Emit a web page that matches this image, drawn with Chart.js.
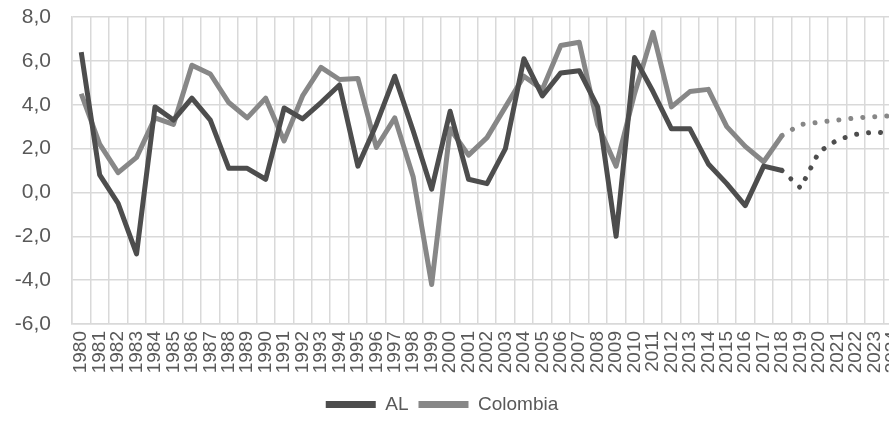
<!DOCTYPE html>
<html>
<head>
<meta charset="utf-8">
<script src="https://cdn.jsdelivr.net/npm/chart.js@4.4.1/dist/chart.umd.min.js"></script>
<style>
  html, body { margin: 0; padding: 0; background: #fff; overflow: hidden; }
  #myChart { display: block; width: 904px; height: 427px; }
</style>
</head>
<body>
<canvas id="myChart" width="904" height="427"></canvas>
<script>
const years = ['1980','1981','1982','1983','1984','1985','1986','1987','1988','1989',
  '1990','1991','1992','1993','1994','1995','1996','1997','1998','1999',
  '2000','2001','2002','2003','2004','2005','2006','2007','2008','2009',
  '2010','2011','2012','2013','2014','2015','2016','2017','2018','2019',
  '2020','2021','2022','2023','2024'];

const alValues = [6.4, 0.8, -0.5, -2.8, 3.9, 3.3, 4.3, 3.3, 1.1, 1.1,
  0.6, 3.85, 3.35, 4.1, 4.9, 1.2, 3.1, 5.3, 2.8, 0.15,
  3.7, 0.6, 0.4, 2.0, 6.1, 4.4, 5.45, 5.55, 3.9, -2.0,
  6.15, 4.6, 2.9, 2.9, 1.3, 0.4, -0.6, 1.2, 1.0, 0.2,
  1.85, 2.4, 2.65, 2.75, 2.7];

const colombiaValues = [4.5, 2.2, 0.9, 1.6, 3.4, 3.1, 5.8, 5.4, 4.1, 3.4,
  4.3, 2.35, 4.4, 5.7, 5.15, 5.2, 2.05, 3.4, 0.7, -4.2,
  2.9, 1.7, 2.5, 3.9, 5.3, 4.7, 6.7, 6.85, 3.1, 1.2,
  4.5, 7.3, 3.9, 4.6, 4.7, 3.0, 2.1, 1.4, 2.6, 3.1,
  3.2, 3.3, 3.4, 3.45, 3.5];

// projections start after this year (dotted)
const lastObserved = '2018';

const yMin = -6;
const yMax = 8;
const yStep = 2;

const textColor = '#595959';
const gridColor = '#d9d9d9';
const fontFamily = '"Liberation Sans", Arial, sans-serif';

const cut = years.indexOf(lastObserved);

const projSegment = {
  borderDash: ctx => ctx.p0DataIndex >= cut ? [0.01, 12] : undefined,
  borderCapStyle: ctx => ctx.p0DataIndex >= cut ? 'round' : 'butt'
};

// legend sits a bit left of the canvas centre in the original
const legendShift = {
  id: 'legendShift',
  afterLayout(chart) {
    chart.legend.left -= 9;
    chart.legend.right -= 9;
  }
};

let myChart = new Chart(document.getElementById('myChart'), {
  type: 'line',
  data: {
    labels: years,
    datasets: [
      {
        label: 'AL',
        data: alValues,
        borderColor: '#4d4d4d',
        backgroundColor: '#4d4d4d',
        borderWidth: 5,
        pointRadius: 0,
        tension: 0,
        borderJoinStyle: 'round',
        segment: projSegment
      },
      {
        label: 'Colombia',
        data: colombiaValues,
        borderColor: '#878787',
        backgroundColor: '#878787',
        borderWidth: 5,
        pointRadius: 0,
        tension: 0,
        borderJoinStyle: 'round',
        segment: projSegment
      }
    ]
  },
  options: {
    responsive: false,
    animation: false,
    devicePixelRatio: 1,
    layout: { padding: { top: 17, right: 2, bottom: 3, left: 0 } },
    plugins: {
      tooltip: { enabled: false },
      legend: {
        position: 'bottom',
        labels: {
          boxWidth: 50,
          boxHeight: 7,
          padding: 10,
          color: textColor,
          font: { family: fontFamily, size: 19 },
          generateLabels: chart => chart.data.datasets.map((ds, i) => ({
            text: ds.label,
            fillStyle: ds.borderColor,
            strokeStyle: ds.borderColor,
            lineWidth: 0,
            hidden: false,
            datasetIndex: i,
            fontColor: textColor
          }))
        }
      }
    },
    scales: {
      x: {
        offset: true,
        grid: { offset: true, color: gridColor, lineWidth: 1.5, drawTicks: false },
        border: { color: gridColor, width: 1.5 },
        ticks: {
          autoSkip: false,
          maxRotation: 90,
          minRotation: 90,
          padding: 7,
          color: textColor,
          font: { family: fontFamily, size: 19 }
        },
        afterFit: s => {
          s.height = 61;
          s.paddingLeft = 0;
          s.paddingRight = 0;
        }
      },
      y: {
        min: yMin,
        max: yMax,
        grid: { color: gridColor, lineWidth: 1.5, drawTicks: false },
        border: { color: gridColor, width: 1.5 },
        ticks: {
          stepSize: yStep,
          padding: 21,
          color: textColor,
          font: { family: fontFamily, size: 21 },
          callback: v => v.toFixed(1).replace('.', ',')
        },
        afterFit: s => {
          s.width = 72;
          s.paddingTop = 0;
          s.paddingBottom = 0;
        }
      }
    }
  },
  plugins: [legendShift]
});
</script>
</body>
</html>
